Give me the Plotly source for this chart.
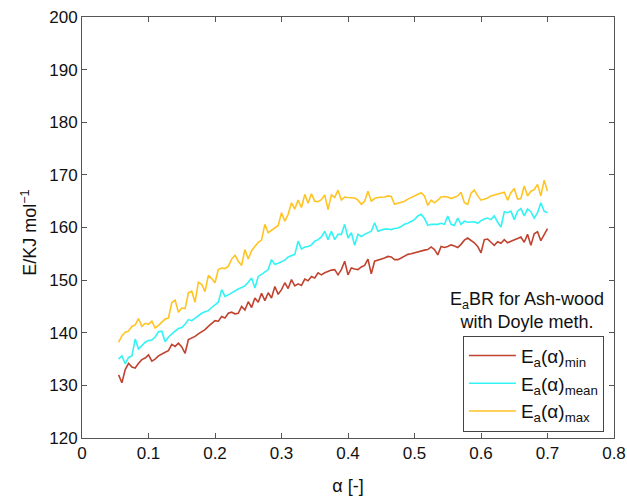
import numpy as np
import plotly.graph_objects as go

alpha = [round(0.055 + 0.005 * i, 3) for i in range(130)]

e_min = [
    132.0, 130.5, 133.0, 134.2, 133.5, 133.3, 134.2, 134.9, 135.2, 135.8,
    134.6, 135.0, 135.6, 136.0, 136.3, 136.6, 137.8, 137.4, 138.0, 137.3,
    136.1, 138.7, 139.0, 139.3, 139.8, 140.2, 140.6, 141.2, 141.8, 142.3,
    142.2, 143.1, 142.8, 143.7, 143.9, 143.6, 143.7, 145.0, 144.3, 145.9,
    144.8, 146.6, 145.8, 147.5, 146.1, 147.6, 146.6, 148.8, 147.3, 148.2,
    149.5, 148.4, 150.1, 148.9, 149.3, 149.0, 150.2, 149.9, 150.7, 150.4,
    151.4, 151.0, 151.4, 151.7, 151.9, 152.0, 151.0, 152.0, 153.6, 151.0,
    152.3, 152.1, 152.0, 152.5, 152.8, 154.0, 151.2, 153.6, 153.8, 153.9,
    154.2, 154.5, 154.4, 153.9, 153.9, 154.2, 154.5, 154.9, 155.0, 155.2,
    155.4, 155.5, 155.7, 155.8, 156.3, 155.8, 154.8, 156.4, 156.2, 156.4,
    156.7, 156.5, 156.2, 156.8, 157.6, 158.0, 157.5, 157.1, 156.4, 155.2,
    157.7, 157.8, 157.2, 156.6, 157.3, 157.0, 157.7, 157.1, 157.4, 157.6,
    157.9, 158.2, 157.2, 158.7, 156.6, 158.8, 159.2, 157.5, 158.6, 159.8,
]

e_mean = [
    135.0, 135.6, 134.1, 135.3, 135.6, 138.8, 136.9, 137.6, 138.2, 138.5,
    138.6, 139.2, 140.2, 140.3, 138.3, 139.2, 139.8, 140.3, 140.8, 141.0,
    141.6, 142.5, 142.3, 142.8, 143.2, 143.7, 144.0, 144.2, 144.8, 145.3,
    145.8, 148.2, 146.9, 147.2, 147.6, 148.0, 148.3, 148.6, 148.9, 149.6,
    150.4, 148.5, 150.7, 151.1, 151.5, 152.0, 153.9, 153.0, 153.2, 153.5,
    153.8, 154.4, 154.6, 154.9, 157.4, 155.9, 156.3, 156.4, 156.7, 157.4,
    157.7, 158.2, 159.3, 157.7, 159.3, 157.7, 158.7, 158.7, 160.6, 158.0,
    159.0, 156.6, 158.7, 158.3, 158.7, 159.0, 159.3, 160.9, 159.3, 159.5,
    159.7, 159.7, 159.6, 159.8, 159.9, 160.2, 160.6, 160.8, 161.1, 161.5,
    162.2, 162.5, 161.7, 160.4, 160.6, 160.6, 160.6, 160.8, 160.6, 162.2,
    160.6, 160.4, 161.8, 160.6, 161.2, 161.0, 161.0, 161.1, 160.8, 161.3,
    161.6, 161.8, 161.5, 162.2, 161.0, 160.1, 163.0, 162.8, 163.1, 161.5,
    163.1, 163.6, 162.2, 163.5, 163.0, 161.8, 162.8, 164.7, 163.1, 162.8,
]

e_max = [
    138.2, 139.4, 140.1, 140.3, 141.2, 141.5, 142.7, 141.2, 141.8, 141.6,
    142.2, 140.9, 141.4, 142.0, 142.6, 142.8, 145.7, 146.2, 143.9, 144.7,
    144.6, 147.6, 147.9, 145.8, 149.6, 149.2, 147.8, 150.9, 150.3, 149.5,
    152.0, 152.3, 152.2, 152.6, 154.0, 154.7, 153.6, 152.8, 155.8, 154.0,
    155.6, 156.4, 157.2, 157.6, 160.6, 159.0, 159.5, 159.9, 160.4, 162.8,
    161.2, 162.5, 164.7, 163.5, 165.2, 163.8, 166.3, 164.6, 166.4, 165.0,
    164.9, 165.3, 166.2, 163.4, 166.2, 165.7, 167.1, 165.2, 165.8, 165.7,
    165.7, 165.6, 165.2, 164.4, 165.0, 166.9, 165.0, 165.5, 165.7, 165.7,
    165.8, 166.0, 165.9, 164.4, 164.6, 164.8, 165.0, 165.4, 165.7, 166.0,
    166.4, 166.6, 166.0, 164.2, 165.2, 164.7, 165.2, 165.8, 165.9, 165.8,
    165.5, 165.7, 166.0, 166.7, 164.7, 164.4, 166.5, 167.1, 166.0, 165.2,
    165.4, 165.6, 166.0, 166.2, 166.4, 166.6, 166.7, 165.2, 166.6, 167.4,
    165.4, 165.5, 167.9, 166.0, 166.9, 167.2, 168.2, 166.0, 169.0, 166.9,
]

series_names = ["E<sub>a</sub>(α)<sub>min</sub>",
                "E<sub>a</sub>(α)<sub>mean</sub>",
                "E<sub>a</sub>(α)<sub>max</sub>"]
series_values = [e_min, e_mean, e_max]
series_colors = ["#c1432f", "#33f3f5", "#ffc424"]

x_ticks = [0, 0.1, 0.2, 0.3, 0.4, 0.5, 0.6, 0.7, 0.8]
x_tick_labels = ["0", "0.1", "0.2", "0.3", "0.4", "0.5", "0.6", "0.7", "0.8"]
y_ticks = [120, 130, 140, 150, 160, 170, 180, 190, 200]

FONT = "Liberation Sans, Arial, Helvetica, sans-serif"

fig = go.Figure()
for name, vals, col in zip(series_names, series_values, series_colors):
    fig.add_trace(go.Scatter(x=alpha, y=vals, mode="lines", name=name,
                             line=dict(color=col, width=1.6)))

axis_common = dict(showline=True, linecolor="#555555", linewidth=1, mirror="ticks",
                   ticks="inside", ticklen=5, tickcolor="#555555", showgrid=False,
                   zeroline=False, automargin=False,
                   tickfont=dict(family=FONT, size=17, color="#111111"))

fig.update_layout(
    width=627, height=497,
    margin=dict(l=82, r=13, t=17, b=59),
    paper_bgcolor="white", plot_bgcolor="white",
    font=dict(family=FONT, size=17, color="#111111"),
    xaxis=dict(range=[0, 0.8], tickvals=x_ticks, ticktext=x_tick_labels,
               title=dict(text="α [-]", font=dict(family=FONT, size=18), standoff=16),
               **axis_common),
    yaxis=dict(range=[120, 200], tickvals=y_ticks, **axis_common),
    legend=dict(x=0.716, y=0.243, xanchor="left", yanchor="top",
                bordercolor="#444444", borderwidth=1, bgcolor="white",
                font=dict(family=FONT, size=19), tracegroupgap=0, itemwidth=47),
    showlegend=True,
)

fig.add_annotation(xref="paper", yref="paper", x=-0.098, y=0.487,
                   xanchor="center", yanchor="middle", textangle=-90,
                   text="E/KJ mol<sup>−1</sup>", showarrow=False,
                   font=dict(family=FONT, size=18, color="#111111"))

fig.add_annotation(xref="paper", yref="paper", x=0.836, y=0.304,
                   xanchor="center", yanchor="middle",
                   text="E<sub>a</sub>BR for Ash-wood<br>with Doyle meth.",
                   showarrow=False, align="center",
                   font=dict(family=FONT, size=18, color="#111111"))

fig.write_html("out.html")
